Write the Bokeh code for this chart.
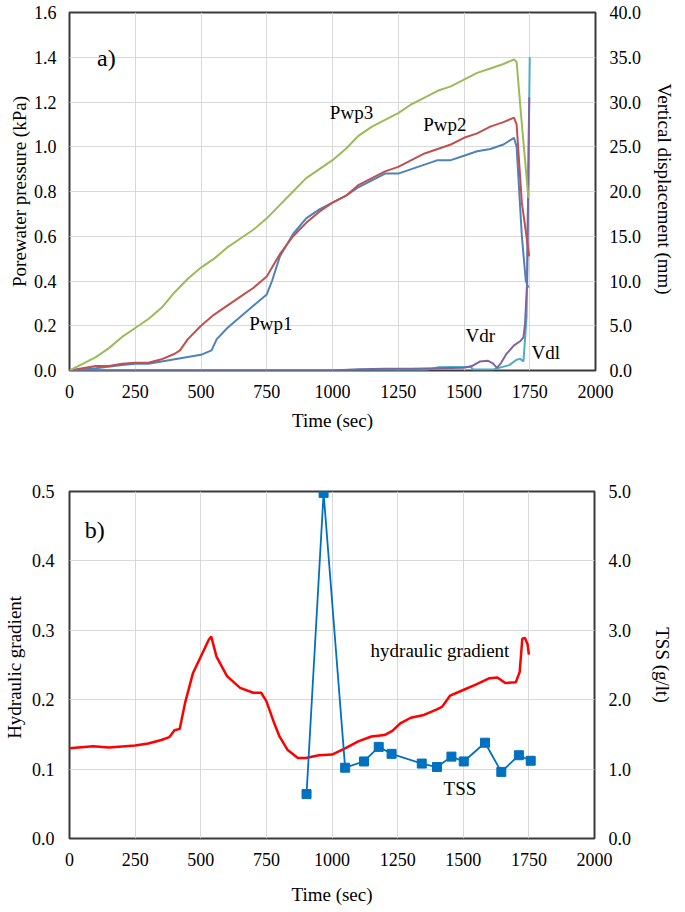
from bokeh.plotting import figure
from bokeh.layouts import column
from bokeh.models import Range1d, LinearAxis, FixedTicker, PrintfTickFormatter, Label
from bokeh.embed import file_html
from bokeh.resources import INLINE

# ---------------- data: panel a) ----------------
pwp3_t = [0, 50, 100, 150, 200, 250, 300, 350, 400, 450, 500, 550, 600, 650, 700, 750, 800, 850,
          900, 950, 1000, 1050, 1100, 1150, 1200, 1250, 1300, 1350, 1400, 1450, 1500, 1550, 1600,
          1650, 1690, 1700, 1720, 1745]
pwp3_v = [0.0, 0.03, 0.06, 0.10, 0.15, 0.19, 0.23, 0.28, 0.35, 0.41, 0.46, 0.50, 0.55, 0.59, 0.63,
          0.68, 0.74, 0.80, 0.86, 0.90, 0.94, 0.99, 1.05, 1.09, 1.12, 1.15, 1.19, 1.22, 1.25, 1.27,
          1.30, 1.33, 1.35, 1.37, 1.39, 1.38, 1.10, 0.77]

pwp2_t = [0, 50, 100, 150, 200, 250, 300, 350, 400, 420, 450, 500, 550, 600, 650, 700, 750, 780,
          800, 850, 900, 950, 1000, 1050, 1100, 1150, 1200, 1250, 1300, 1350, 1400, 1450, 1500,
          1550, 1600, 1650, 1690, 1700, 1720, 1748]
pwp2_v = [0.0, 0.01, 0.02, 0.02, 0.03, 0.035, 0.035, 0.05, 0.075, 0.09, 0.14, 0.20, 0.25, 0.29,
          0.33, 0.37, 0.42, 0.48, 0.52, 0.60, 0.66, 0.71, 0.75, 0.78, 0.83, 0.86, 0.89, 0.91, 0.94,
          0.97, 0.99, 1.01, 1.04, 1.06, 1.09, 1.11, 1.13, 1.10, 0.75, 0.51]

pwp1_t = [0, 50, 100, 200, 250, 300, 350, 400, 450, 500, 540, 560, 600, 650, 700, 750, 770, 800,
          850, 900, 950, 1000, 1050, 1100, 1150, 1200, 1250, 1300, 1350, 1400, 1450, 1500, 1550,
          1600, 1650, 1690, 1700, 1720, 1735, 1745]
pwp1_v = [0.0, 0.005, 0.01, 0.025, 0.03, 0.03, 0.04, 0.05, 0.06, 0.07, 0.09, 0.14, 0.19, 0.24,
          0.29, 0.34, 0.40, 0.51, 0.61, 0.68, 0.72, 0.75, 0.78, 0.82, 0.85, 0.88, 0.88, 0.90, 0.92,
          0.94, 0.94, 0.96, 0.98, 0.99, 1.01, 1.04, 1.00, 0.60, 0.40, 0.37]

vdr_t = [0, 1000, 1100, 1200, 1300, 1400, 1500, 1530, 1560, 1590, 1610, 1625, 1640, 1660, 1690,
         1715, 1726, 1732, 1740, 1748]
vdr_v = [0.0, 0.0, 0.15, 0.2, 0.2, 0.25, 0.3, 0.5, 1.0, 1.1, 0.8, 0.3, 0.8, 1.8, 2.8, 3.3, 3.7,
         5.2, 9.8, 30.5]

vdl_t = [0, 1350, 1400, 1450, 1500, 1525, 1535, 1608, 1672, 1700, 1714, 1726, 1738, 1750]
vdl_v = [0.0, 0.0, 0.35, 0.4, 0.4, 0.4, 0.1, 0.1, 0.6, 1.2, 1.3, 1.0, 6.0, 35.0]

# ---------------- data: panel b) ----------------
hg_t = [0, 90, 150, 250, 300, 350, 380, 400, 420, 440, 470, 500, 530, 540, 560, 600, 650, 700,
        730, 750, 780, 800, 830, 870, 900, 950, 1000, 1050, 1100, 1150, 1200, 1230, 1260, 1300,
        1350, 1400, 1420, 1450, 1500, 1550, 1600, 1630, 1660, 1700, 1715, 1725, 1735, 1745, 1750]
hg_v = [0.130, 0.133, 0.131, 0.134, 0.137, 0.142, 0.146, 0.156, 0.158, 0.195, 0.238, 0.262, 0.286,
        0.291, 0.262, 0.234, 0.217, 0.210, 0.210, 0.198, 0.166, 0.147, 0.128, 0.116, 0.116, 0.120,
        0.121, 0.130, 0.140, 0.147, 0.149, 0.155, 0.166, 0.174, 0.178, 0.186, 0.190, 0.206,
        0.214, 0.222, 0.231, 0.232, 0.224, 0.225, 0.240, 0.288, 0.289, 0.280, 0.265]

tss_t = [903, 968, 1050, 1122, 1178, 1227, 1342, 1400, 1455, 1502, 1583, 1645, 1712, 1757]
tss_v = [0.64, 4.98, 1.02, 1.11, 1.32, 1.22, 1.08, 1.03, 1.18, 1.11, 1.38, 0.96, 1.20, 1.12]

x_ticks = [0, 250, 500, 750, 1000, 1250, 1500, 1750, 2000]
a_left_ticks = [0.0, 0.2, 0.4, 0.6, 0.8, 1.0, 1.2, 1.4, 1.6]
a_right_ticks = [0, 5, 10, 15, 20, 25, 30, 35, 40]
b_left_ticks = [0.0, 0.1, 0.2, 0.3, 0.4, 0.5]
b_right_ticks = [0, 1, 2, 3, 4, 5]

FONT = "Liberation Serif"
TICK_FS = "18px"
LAB_FS = "19px"
GRID = "#D9D9D9"


def style(p, xticks, yticks):
    p.xaxis.ticker = FixedTicker(ticks=xticks)
    p.yaxis.ticker = FixedTicker(ticks=yticks)
    p.yaxis.formatter = PrintfTickFormatter(format="%.1f")
    for ax in list(p.xaxis) + list(p.yaxis):
        ax.axis_line_color = None
        ax.major_tick_line_color = None
        ax.minor_tick_line_color = None
        ax.major_tick_out = 0
        ax.major_tick_in = 0
        ax.minor_tick_out = 0
        ax.minor_tick_in = 0
        ax.major_label_text_font = FONT
        ax.major_label_text_font_size = TICK_FS
        ax.major_label_text_color = "#000000"
        ax.axis_label_text_font = FONT
        ax.axis_label_text_font_size = LAB_FS
        ax.axis_label_text_font_style = "normal"
        ax.axis_label_text_color = "#000000"
        ax.major_label_standoff = 14
    p.grid.grid_line_color = GRID
    p.grid.grid_line_width = 1
    p.outline_line_color = "#3A3A3A"
    p.outline_line_width = 2
    p.background_fill_color = "white"
    p.border_fill_color = "white"


# ---------------- panel a ----------------
pa = figure(frame_width=526, frame_height=358, output_backend="svg", toolbar_location=None,
            x_range=Range1d(0, 2000), y_range=Range1d(0, 1.6),
            min_border_left=59, min_border_right=84, min_border_top=12, min_border_bottom=66)
pa.extra_y_ranges = {"right": Range1d(0, 40)}
ra = LinearAxis(y_range_name="right", axis_label="Vertical  displacement (mm)")
pa.add_layout(ra, "right")
pa.xaxis.axis_label = "Time (sec)"
pa.yaxis[0].axis_label = "Porewater pressure (kPa)"
style(pa, x_ticks, a_left_ticks)
ra.ticker = FixedTicker(ticks=a_right_ticks)
pa.xaxis.axis_label_standoff = 9
pa.yaxis[0].axis_label_standoff = 1
pa.yaxis[0].major_label_standoff = 13
ra.axis_label_standoff = 10

pa.line(vdl_t, vdl_v, y_range_name="right", line_color="#4BACC6", line_width=2)
pa.line(vdr_t, vdr_v, y_range_name="right", line_color="#8064A2", line_width=2)
pa.line(pwp1_t, pwp1_v, line_color="#4F81BD", line_width=2)
pa.line(pwp2_t, pwp2_v, line_color="#C0504D", line_width=2)
pa.line(pwp3_t, pwp3_v, line_color="#9BBB59", line_width=2)

for txt, x, y, fs in [("a)", 105, 1.395, "24px"), ("Pwp3", 990, 1.155, LAB_FS),
                      ("Pwp2", 1345, 1.10, LAB_FS), ("Pwp1", 683, 0.21, LAB_FS),
                      ("Vdr", 1506, 0.157, LAB_FS), ("Vdl", 1757, 0.082, LAB_FS)]:
    pa.add_layout(Label(x=x, y=y, text=txt, text_font=FONT, text_font_size=fs,
                        text_baseline="middle", text_align="left", text_color="#000000"))

# ---------------- panel b ----------------
pb = figure(frame_width=525, frame_height=347, output_backend="svg", toolbar_location=None,
            x_range=Range1d(0, 2000), y_range=Range1d(0, 0.5),
            min_border_left=64, min_border_right=80, min_border_top=55, min_border_bottom=72)
pb.extra_y_ranges = {"right": Range1d(0, 5)}
rb = LinearAxis(y_range_name="right", axis_label="TSS (g/lt)")
pb.add_layout(rb, "right")
pb.xaxis.axis_label = "Time (sec)"
pb.yaxis[0].axis_label = "Hydraulic  gradient"
style(pb, x_ticks, b_left_ticks)
rb.ticker = FixedTicker(ticks=b_right_ticks)
pb.xaxis.axis_label_standoff = 15
pb.yaxis[0].axis_label_standoff = 4
pb.yaxis[0].major_label_standoff = 15
rb.axis_label_standoff = 18

pb.line(hg_t, hg_v, line_color="#FF0000", line_width=2.5)
pb.line(tss_t, tss_v, y_range_name="right", line_color="#0070C0", line_width=1.8)
pb.scatter(tss_t, tss_v, y_range_name="right", marker="square", size=9,
           fill_color="#0070C0", line_color="#0070C0")

for txt, x, y, fs in [("b)", 58, 0.445, "24px"), ("hydraulic gradient", 1147, 0.271, LAB_FS),
                      ("TSS", 1425, 0.0715, LAB_FS)]:
    pb.add_layout(Label(x=x, y=y, text=txt, text_font=FONT, text_font_size=fs,
                        text_baseline="middle", text_align="left", text_color="#000000"))

layout = column(pa, pb, spacing=0)
open("out.html", "w").write(file_html(layout, INLINE))
